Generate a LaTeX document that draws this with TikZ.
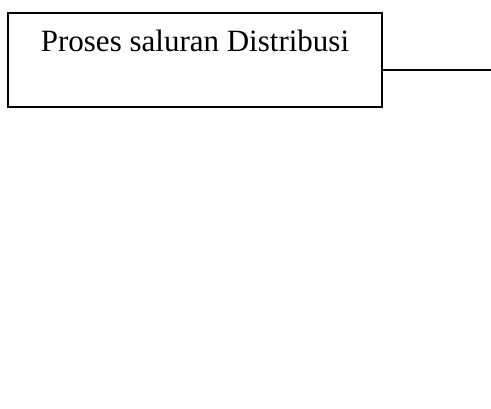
\documentclass[tikz,border=0pt]{standalone}
\usepackage{fontspec}
\setmainfont{Liberation Serif}
\usepackage{tikz}
\usetikzlibrary{positioning,calc}
\usepackage{xcolor}
\definecolor{InkK}{RGB}{0,0,0}

\begin{document}
\begin{tikzpicture}[x=1pt,y=1pt,
    procbox/.style={draw=InkK,line width=1.6pt,minimum width=374pt,minimum height=94pt,inner sep=0pt},
    judul/.style={font=\fontsize{31}{37}\selectfont,inner sep=0pt,anchor=base}]
        \useasboundingbox (0,0) rectangle (491,-408);
        \node[procbox] (proses) at (195,-60) {};
        \node[judul] (teks) at ($(proses.north)+(0,-39)$) {Proses saluran Distribusi};
        \coordinate (ujung) at (491,-70);
        \draw[InkK,line width=1.6pt] ($(proses.east)+(0,-10)$) -- (ujung);
      \end{tikzpicture}
\end{document}
